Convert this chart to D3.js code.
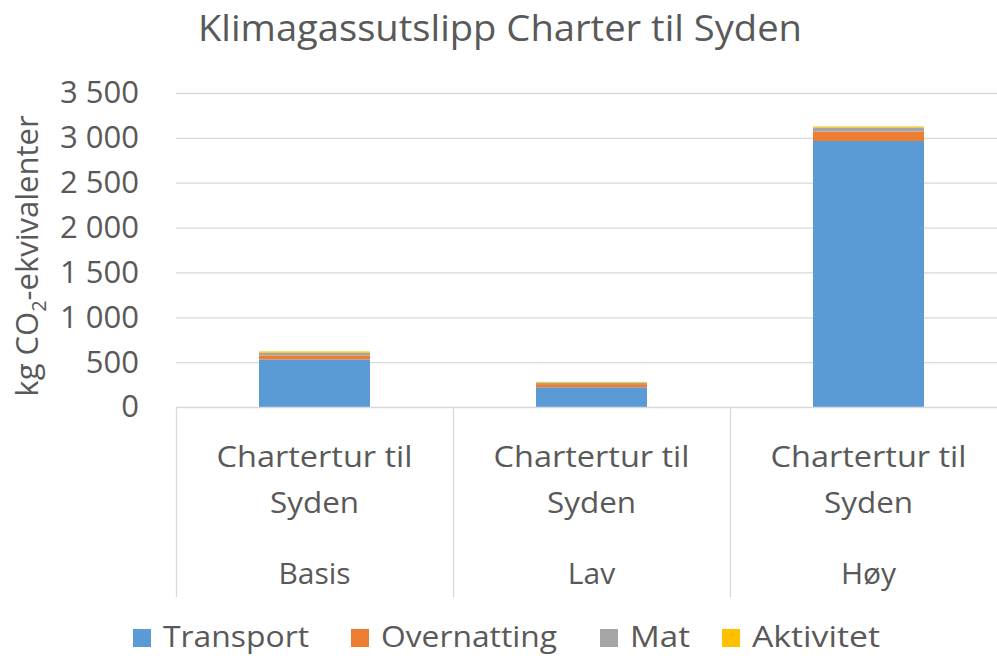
<!DOCTYPE html>
<html>
<head>
<meta charset="utf-8">
<script src="https://cdn.jsdelivr.net/npm/d3@7"></script>
<style>
  body { margin: 0; background: #fff; }
  text { font-family: "Open Sans", "Noto Sans", sans-serif; fill: #595959; }
</style>
</head>
<body>
<div class="chart"></div>
<script>
var width = 997,
    height = 656;

// data
var scenarios = ["Basis", "Lav", "Høy"];
var categoryLabel = ["Chartertur til", "Syden"];
var seriesNames = ["Transport", "Overnatting", "Mat", "Aktivitet"];
var transport = [530, 220, 2965];
var overnatting = [45, 35, 105];
var mat = [30, 15, 45];
var aktivitet = [15, 10, 12];
var yTicks = [0, 500, 1000, 1500, 2000, 2500, 3000, 3500];
var colors = ["#5B9BD5", "#ED7D31", "#A5A5A5", "#FFC000"];

var rows = scenarios.map(function(s, i) {
  return { scenario: s, Transport: transport[i], Overnatting: overnatting[i], Mat: mat[i], Aktivitet: aktivitet[i] };
});

var plot = {left: 176, top: 93, bottom: 407, right: 1007};

var svg = d3.select(".chart").append("svg")
    .attr("width", width)
    .attr("height", height);

var x = d3.scaleBand().domain(scenarios).range([plot.left, plot.right]).paddingInner(0).paddingOuter(0);
var y = d3.scaleLinear().domain([0, 3500]).range([plot.bottom, plot.top]);

// title
svg.append("text")
    .attr("x", 500)
    .attr("y", 41)
    .attr("text-anchor", "middle")
    .attr("font-size", 37)
    .attr("textLength", 604)
    .attr("lengthAdjust", "spacingAndGlyphs")
    .text("Klimagassutslipp Charter til Syden");

// grid lines
svg.append("g")
  .selectAll("line")
  .data(yTicks.filter(function(d) { return d > 0; }))
  .enter().append("line")
    .attr("x1", plot.left)
    .attr("x2", plot.right)
    .attr("y1", function(d) { return y(d) + 0.5; })
    .attr("y2", function(d) { return y(d) + 0.5; })
    .attr("stroke", "#D9D9D9")
    .attr("stroke-width", 1.3);

// y axis labels
var yAxis = svg.append("g")
    .attr("transform", "translate(" + plot.left + ",0)")
    .call(d3.axisLeft(y).tickValues(yTicks).tickSize(0).tickPadding(37)
      .tickFormat(function(d) { return d3.format(",")(d).replace(",", " "); }));
yAxis.select(".domain").remove();
yAxis.selectAll("text")
    .attr("font-size", 31)
    .attr("font-family", null)
    .attr("fill", "#595959");

// y axis title
var ylab = svg.append("text")
    .attr("transform", "translate(38,256) rotate(-90)")
    .attr("text-anchor", "middle")
    .attr("font-size", 31);
ylab.append("tspan").text("kg CO");
ylab.append("tspan").attr("font-size", 20).attr("dy", 8).text("2");
ylab.append("tspan").attr("dy", -8).text("-ekvivalenter");

// stacked bars
var stack = d3.stack().keys(seriesNames);
var layers = stack(rows);
var barW = 111;

svg.append("g")
  .selectAll("g")
  .data(layers)
  .enter().append("g")
    .attr("fill", function(d, i) { return colors[i]; })
  .selectAll("rect")
  .data(function(d) { return d; })
  .enter().append("rect")
    .attr("x", function(d) { return x(d.data.scenario) + x.bandwidth() / 2 - barW / 2; })
    .attr("width", barW)
    .attr("y", function(d) { return y(d[1]); })
    .attr("height", function(d) { return y(d[0]) - y(d[1]); });

// bottom axis line
svg.append("line")
    .attr("x1", plot.left).attr("x2", plot.right)
    .attr("y1", plot.bottom + 0.5).attr("y2", plot.bottom + 0.5)
    .attr("stroke", "#D9D9D9").attr("stroke-width", 1.3);

// category dividers
var edges = scenarios.map(function(s) { return x(s); }).concat([plot.right]);
svg.append("g")
  .selectAll("line")
  .data(edges)
  .enter().append("line")
    .attr("x1", function(d) { return d + 0.5; })
    .attr("x2", function(d) { return d + 0.5; })
    .attr("y1", plot.bottom)
    .attr("y2", 597)
    .attr("stroke", "#D9D9D9")
    .attr("stroke-width", 1.3);

// category labels
var cat = svg.append("g")
  .selectAll("g")
  .data(scenarios)
  .enter().append("g")
    .attr("transform", function(d) { return "translate(" + (x(d) + x.bandwidth() / 2) + ",0)"; });

cat.append("text")
    .attr("y", 467)
    .attr("text-anchor", "middle")
    .attr("font-size", 30)
    .attr("textLength", 196)
    .attr("lengthAdjust", "spacingAndGlyphs")
    .text(categoryLabel[0]);
cat.append("text")
    .attr("y", 513)
    .attr("text-anchor", "middle")
    .attr("font-size", 30)
    .attr("textLength", 89)
    .attr("lengthAdjust", "spacingAndGlyphs")
    .text(categoryLabel[1]);
cat.append("text")
    .attr("y", 584)
    .attr("text-anchor", "middle")
    .attr("font-size", 30)
    .text(function(d) { return d; });

// legend
var legendX = [133, 351, 600, 722];
var legendW = [146, 176, 60, 128];
var legend = svg.append("g")
  .selectAll("g")
  .data(seriesNames)
  .enter().append("g")
    .attr("transform", function(d, i) { return "translate(" + legendX[i] + ",629)"; });

legend.append("rect")
    .attr("width", 18)
    .attr("height", 18)
    .attr("fill", function(d, i) { return colors[i]; });

legend.append("text")
    .attr("x", 30)
    .attr("y", 18)
    .attr("font-size", 29)
    .attr("textLength", function(d, i) { return legendW[i]; })
    .attr("lengthAdjust", "spacingAndGlyphs")
    .text(function(d) { return d; });
</script>
</body>
</html>
